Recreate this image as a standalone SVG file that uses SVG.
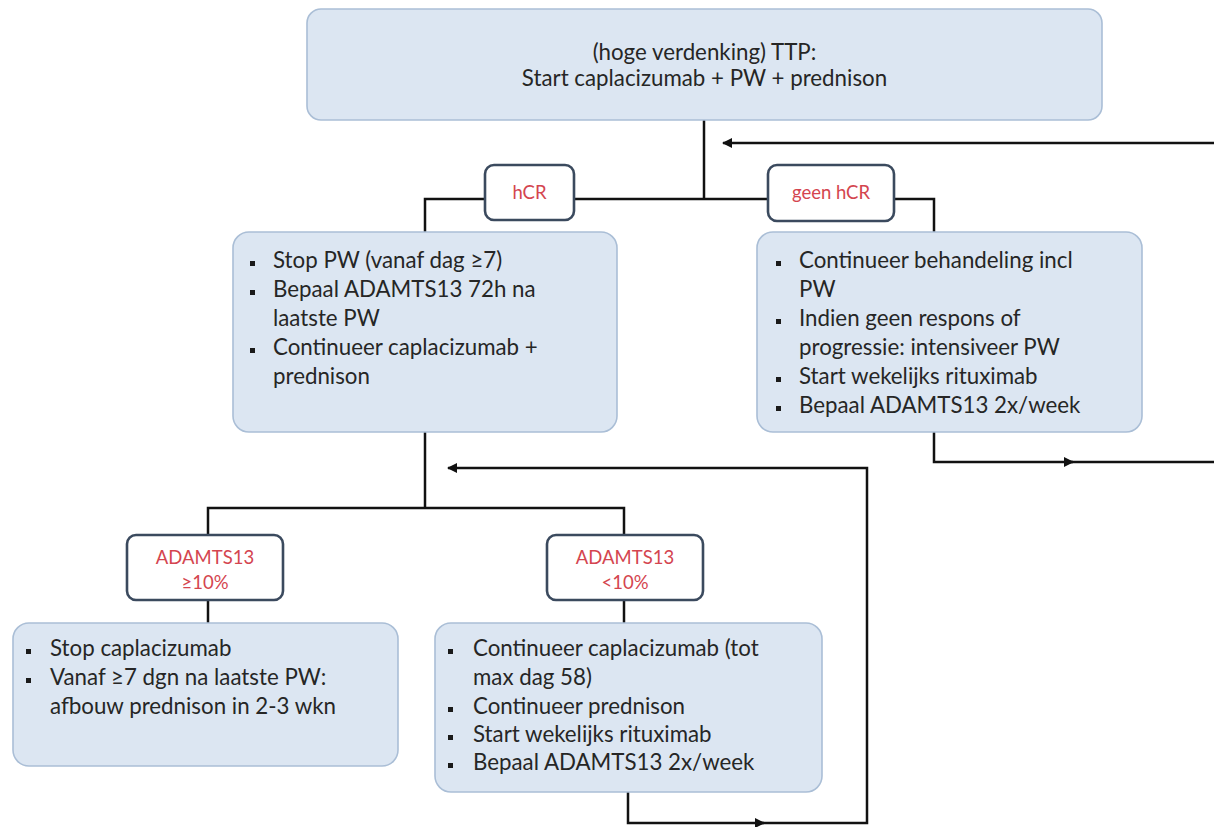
<svg xmlns="http://www.w3.org/2000/svg" width="1214" height="827" viewBox="0 0 1214 827">
  <defs>
    <style>
      .node { fill: #dce6f2; stroke: #aabed6; stroke-width: 1.6; }
      .label { fill: #ffffff; stroke: #3b4a5e; stroke-width: 2.6; }
      .txt { font-family: Lato, "Liberation Sans", sans-serif; font-size: 22.3px; fill: #262626; }
      .lbl { font-family: Lato, "Liberation Sans", sans-serif; font-size: 18.5px; fill: #d4454f; text-anchor: middle; }
      .bullet { fill: #1a1a1a; }
      .wire { fill: none; stroke: #111111; stroke-width: 2.5; }
    </style>
    <marker id="arrow" viewBox="0 0 10 10" refX="9" refY="5" markerWidth="11" markerHeight="10" markerUnits="userSpaceOnUse" orient="auto">
      <path d="M0,0 L10,5 L0,10 z" fill="#111111"/>
    </marker>
  </defs>

  <rect width="1214" height="827" fill="#ffffff"/>

  <!-- connectors -->
  <g id="connectors">
    <path class="wire" d="M704,120 V199"/>
    <path class="wire" d="M425,232 V199 H485"/>
    <path class="wire" d="M574,199 H768"/>
    <path class="wire" d="M894,199 H934 V232"/>
    <path class="wire" d="M1214,143 H723" marker-end="url(#arrow)"/>
    <path class="wire" d="M934,432 V462 H1073" marker-end="url(#arrow)"/>
    <path class="wire" d="M1068,462 H1214"/>
    <path class="wire" d="M425,432 V508"/>
    <path class="wire" d="M208,535 V508 H624 V535"/>
    <path class="wire" d="M208,600 V623"/>
    <path class="wire" d="M624,600 V623"/>
    <path class="wire" d="M628,792 V823 H764" marker-end="url(#arrow)"/>
    <path class="wire" d="M759,823 H867 V468 H448" marker-end="url(#arrow)"/>
  </g>

  <!-- start -->
  <g id="start">
    <rect class="node" x="307" y="9" width="795" height="111" rx="14"/>
    <text class="txt" x="704.5" y="60" text-anchor="middle">(hoge verdenking) TTP:</text>
    <text class="txt" x="704.5" y="86" text-anchor="middle">Start caplacizumab + PW + prednison</text>
  </g>

  <!-- branch labels -->
  <g id="label-hcr">
    <rect class="label" x="485" y="165" width="89" height="55" rx="9"/>
    <text class="lbl" x="529.5" y="199">hCR</text>
  </g>
  <g id="label-geen-hcr">
    <rect class="label" x="768" y="165" width="126" height="56" rx="9"/>
    <text class="lbl" x="831" y="199">geen hCR</text>
  </g>

  <!-- hCR actions -->
  <g id="hcr">
    <rect class="node" x="233" y="232" width="384" height="200" rx="16"/>
    <rect class="bullet" x="250" y="261" width="5" height="5"/>
    <rect class="bullet" x="250" y="290" width="5" height="5"/>
    <rect class="bullet" x="250" y="348" width="5" height="5"/>
    <text class="txt" x="273" y="268">Stop PW (vanaf dag ≥7)</text>
    <text class="txt" x="273" y="297">Bepaal ADAMTS13 72h na</text>
    <text class="txt" x="273" y="326">laatste PW</text>
    <text class="txt" x="273" y="355">Continueer caplacizumab +</text>
    <text class="txt" x="273" y="384">prednison</text>
  </g>

  <!-- no hCR actions -->
  <g id="geen-hcr">
    <rect class="node" x="757" y="232" width="385" height="200" rx="16"/>
    <rect class="bullet" x="776" y="261" width="5" height="5"/>
    <rect class="bullet" x="776" y="319" width="5" height="5"/>
    <rect class="bullet" x="776" y="377" width="5" height="5"/>
    <rect class="bullet" x="776" y="406" width="5" height="5"/>
    <text class="txt" x="799" y="268">Continueer behandeling incl</text>
    <text class="txt" x="799" y="297">PW</text>
    <text class="txt" x="799" y="326">Indien geen respons of</text>
    <text class="txt" x="799" y="355">progressie: intensiveer PW</text>
    <text class="txt" x="799" y="384">Start wekelijks rituximab</text>
    <text class="txt" x="799" y="413">Bepaal ADAMTS13 2x/week</text>
  </g>

  <!-- ADAMTS13 labels -->
  <g id="label-high">
    <rect class="label" x="127" y="535" width="156" height="65" rx="9"/>
    <text class="lbl" x="205" y="564">ADAMTS13</text>
    <text class="lbl" x="205" y="589">≥10%</text>
  </g>
  <g id="label-low">
    <rect class="label" x="547" y="535" width="156" height="65" rx="9"/>
    <text class="lbl" x="625" y="564">ADAMTS13</text>
    <text class="lbl" x="625" y="589">&lt;10%</text>
  </g>

  <!-- ADAMTS13 >= 10% actions -->
  <g id="high">
    <rect class="node" x="13" y="623" width="385" height="143" rx="16"/>
    <rect class="bullet" x="26" y="649" width="5" height="5"/>
    <rect class="bullet" x="26" y="678" width="5" height="5"/>
    <text class="txt" x="50" y="656">Stop caplacizumab</text>
    <text class="txt" x="50" y="685">Vanaf ≥7 dgn na laatste PW:</text>
    <text class="txt" x="50" y="714">afbouw prednison in 2-3 wkn</text>
  </g>

  <!-- ADAMTS13 < 10% actions -->
  <g id="low">
    <rect class="node" x="435" y="623" width="387" height="169" rx="16"/>
    <rect class="bullet" x="448" y="649" width="5" height="5"/>
    <rect class="bullet" x="448" y="707" width="5" height="5"/>
    <rect class="bullet" x="448" y="735" width="5" height="5"/>
    <rect class="bullet" x="448" y="763" width="5" height="5"/>
    <text class="txt" x="473" y="656">Continueer caplacizumab (tot</text>
    <text class="txt" x="473" y="685">max dag 58)</text>
    <text class="txt" x="473" y="714">Continueer prednison</text>
    <text class="txt" x="473" y="742">Start wekelijks rituximab</text>
    <text class="txt" x="473" y="770">Bepaal ADAMTS13 2x/week</text>
  </g>
</svg>
